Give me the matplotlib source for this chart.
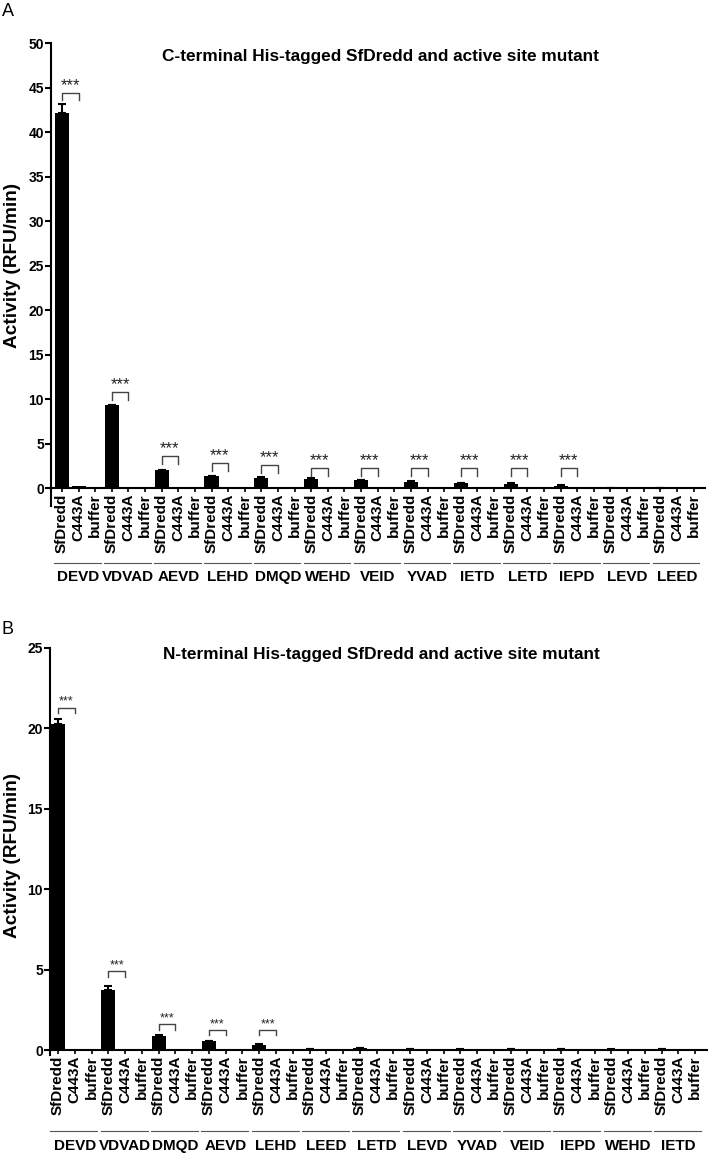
import numpy as np
import matplotlib.pyplot as plt
from matplotlib.transforms import blended_transform_factory

plt.rcParams['font.family'] = ['Liberation Sans', 'DejaVu Sans']

samples = ['SfDredd', 'C443A', 'buffer']

# panel A - C-terminal tag
groups_a = ['DEVD', 'VDVAD', 'AEVD', 'LEHD', 'DMQD', 'WEHD', 'VEID',
            'YVAD', 'IETD', 'LETD', 'IEPD', 'LEVD', 'LEED']
sfdredd_a = [42.1, 9.3, 2.0, 1.35, 1.2, 1.05, 0.9, 0.75, 0.55, 0.5, 0.3, 0.05, 0.05]
sfdredd_err_a = [1.1, 0.1, 0.05, 0.05, 0.05, 0.05, 0.05, 0.05, 0.05, 0.05, 0.05, 0.02, 0.02]
c443a_a = [0.2, 0.15, 0.05, 0.05, 0.03, 0.08, 0.05, 0.05, 0.05, 0.05, 0.05, 0.05, 0.05]
buffer_a = [0.05, 0.05, 0.05, 0.05, 0.02, 0.05, 0.05, 0.05, 0.05, 0.05, 0.05, 0.05, 0.05]
bracket_a = [44.4, 10.8, 3.6, 2.8, 2.6, 2.25, 2.25, 2.25, 2.25, 2.25, 2.25]

# panel B - N-terminal tag
groups_b = ['DEVD', 'VDVAD', 'DMQD', 'AEVD', 'LEHD', 'LEED', 'LETD',
            'LEVD', 'YVAD', 'VEID', 'IEPD', 'WEHD', 'IETD']
sfdredd_b = [20.3, 3.75, 0.9, 0.55, 0.35, 0.05, 0.12, 0.05, 0.04, 0.05, 0.05, 0.03, 0.08]
sfdredd_err_b = [0.3, 0.25, 0.05, 0.05, 0.05, 0.02, 0.02, 0.02, 0.02, 0.02, 0.02, 0.02, 0.02]
c443a_b = [0.05, 0.04, 0.04, 0.04, 0.04, 0.03, 0.04, 0.03, 0.03, 0.03, 0.04, 0.04, 0.04]
buffer_b = [0.05, 0.03, 0.03, -0.06, -0.06, 0.03, 0.03, 0.03, 0.03, 0.03, 0.03, 0.03, 0.03]
bracket_b = [21.3, 4.9, 1.6, 1.25, 1.25]


def draw_panel(fig, rect, xlim, ylim, yticks, groups, sf, sf_err, mut, buf,
               brackets, leg, star_size, line_y, label_y, title, title_y, ylabel_y):
    ax = fig.add_axes(rect)
    # move the x axis to y=0 first, it resets the ticks
    ax.spines['top'].set_visible(False)
    ax.spines['right'].set_visible(False)
    ax.spines['bottom'].set_position(('data', 0))
    ax.spines['left'].set_linewidth(1.5)
    ax.spines['bottom'].set_linewidth(1.5)

    n = len(groups)
    pos = np.arange(n * 3).reshape(n, 3)
    ax.bar(pos[:, 0], sf, width=0.85, color='black')
    ax.errorbar(pos[:, 0], sf, yerr=[np.zeros(n), sf_err], fmt='none',
                ecolor='black', elinewidth=1.5, capsize=3, capthick=1.5)
    ax.bar(pos[:, 1], mut, width=0.85, color='black')
    ax.bar(pos[:, 2], buf, width=0.85, color='black')

    ax.set_xlim(*xlim)
    ax.set_ylim(*ylim)
    ax.set_yticks(yticks)
    ax.set_xticks(pos.ravel())
    ax.set_xticklabels(samples * n, rotation=90, fontsize=11, fontweight='bold')
    for lab in ax.get_yticklabels():
        lab.set_fontweight('bold')
        lab.set_fontsize(10)
    ax.tick_params(axis='y', length=4, width=1.5, pad=1)
    ax.tick_params(axis='x', length=3, width=1.2, pad=1)

    # significance brackets
    for i, top in enumerate(brackets):
        x0, x1 = pos[i, 0], pos[i, 1]
        ax.plot([x0, x0, x1, x1], [top - leg, top, top, top - leg],
                color='#444444', lw=1)
        ax.text((x0 + x1) / 2, top, '***', ha='center', va='bottom',
                fontsize=star_size, color='#222222')

    # group underlines and names
    tr = blended_transform_factory(ax.transData, fig.transFigure)
    for i, g in enumerate(groups):
        ax.plot([pos[i, 0] - 0.45, pos[i, 2] + 0.35], [line_y, line_y],
                transform=tr, clip_on=False, color='#555555', lw=0.8)
        ax.text(pos[i, 1], label_y, g, transform=tr, ha='center', va='center',
                fontsize=11, fontweight='bold')

    fig.text(0.538, title_y, title, ha='center', va='center',
             fontsize=12.4, fontweight='bold')
    fig.text(0.018, ylabel_y, 'Activity (RFU/min)', rotation=90,
             ha='center', va='center', fontsize=13.7, fontweight='bold')
    return ax


fig = plt.figure(figsize=(7.08, 11.53), dpi=100)

draw_panel(fig, [0.072, 0.5611, 0.924, 0.4016], (-0.66, 38.7), (-2, 50),
           range(0, 51, 5), groups_a, sfdredd_a, sfdredd_err_a, c443a_a, buffer_a,
           bracket_a, 0.85, 12, 1 - 563 / 1153, 1 - 577 / 1153,
           'C-terminal His-tagged SfDredd and active site mutant', 1 - 56 / 1153,
           1 - 265 / 1153)

draw_panel(fig, [0.0706, 0.085, 0.929, 0.353], (-0.48, 38.75), (-0.3, 25),
           range(0, 26, 5), groups_b, sfdredd_b, sfdredd_err_b, c443a_b, buffer_b,
           bracket_b, 0.33, 9, 1 - 1131 / 1153, 1 - 1146 / 1153,
           'N-terminal His-tagged SfDredd and active site mutant', 1 - 655 / 1153,
           1 - 855 / 1153)

fig.text(0.011, 1 - 11 / 1153, 'A', ha='center', va='center', fontsize=13)
fig.text(0.010, 1 - 630 / 1153, 'B', ha='center', va='center', fontsize=13)

fig.savefig('out.png', dpi=100)
